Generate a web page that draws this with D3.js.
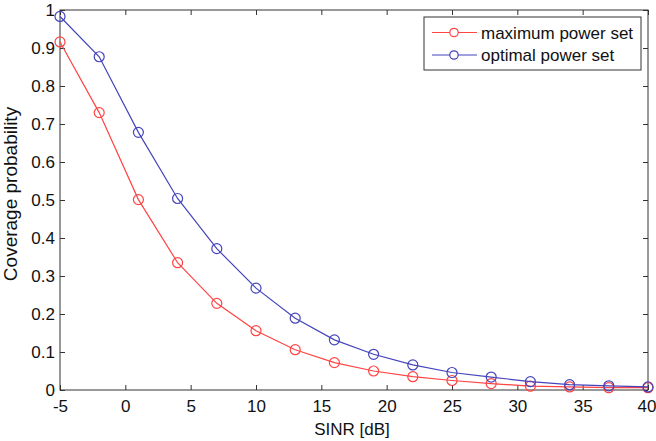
<!DOCTYPE html>
<html>
<head>
<meta charset="utf-8">
<script src="https://cdn.jsdelivr.net/npm/d3@7"></script>
<style>
  html, body { margin: 0; padding: 0; background: #fff; }
  svg { display: block; font-family: "Liberation Sans", Arial, sans-serif; }
</style>
</head>
<body>
<svg id="chart" width="656" height="441"></svg>
<script>
// SINR sample points (dB)
const sinr = [-5, -2, 1, 4, 7, 10, 13, 16, 19, 22, 25, 28, 31, 34, 37, 40];
// Coverage probability per power setting
const maxPower = [0.916, 0.730, 0.501, 0.335, 0.228, 0.156, 0.106, 0.072, 0.050, 0.035, 0.025, 0.017, 0.010, 0.008, 0.006, 0.006];
const optPower = [0.983, 0.877, 0.678, 0.504, 0.372, 0.268, 0.189, 0.132, 0.094, 0.066, 0.046, 0.034, 0.022, 0.014, 0.011, 0.008];
const xTicks = [-5, 0, 5, 10, 15, 20, 25, 30, 35, 40];
const yTicks = [0, 0.1, 0.2, 0.3, 0.4, 0.5, 0.6, 0.7, 0.8, 0.9, 1];
const seriesNames = ["maximum power set", "optimal power set"];
const seriesColors = ["#f44", "#44b"];

const svg = d3.select("#chart");
const m = { left: 60, top: 10, right: 648, bottom: 390 };

const x = d3.scaleLinear().domain([-5, 40]).range([m.left, m.right]);
const y = d3.scaleLinear().domain([0, 1]).range([m.bottom, m.top]);

const axisColor = "#333";
const tickLen = 5;
const tickFont = 17;

// Frame
svg.append("rect")
  .attr("x", m.left).attr("y", m.top)
  .attr("width", m.right - m.left).attr("height", m.bottom - m.top)
  .attr("fill", "none").attr("stroke", axisColor).attr("stroke-width", 1);

// Axes with inward ticks on all four sides
const fmtX = d => String(d);   // plain hyphen for negatives
const fmtY = d => d === 0 ? "0" : (d === 1 ? "1" : d3.format(".1f")(d));
const bottomAxis = svg.append("g").attr("transform", `translate(0,${m.bottom})`)
  .call(d3.axisBottom(x).tickValues(xTicks).tickSize(-tickLen).tickPadding(10).tickFormat(fmtX));
const topAxis = svg.append("g").attr("transform", `translate(0,${m.top})`)
  .call(d3.axisTop(x).tickValues(xTicks).tickSize(-tickLen).tickFormat(""));
const leftAxis = svg.append("g").attr("transform", `translate(${m.left},0)`)
  .call(d3.axisLeft(y).tickValues(yTicks).tickSize(-tickLen).tickPadding(5).tickFormat(fmtY));
const rightAxis = svg.append("g").attr("transform", `translate(${m.right},0)`)
  .call(d3.axisRight(y).tickValues(yTicks).tickSize(-tickLen).tickFormat(""));

[bottomAxis, topAxis, leftAxis, rightAxis].forEach(g => {
  g.select(".domain").remove();
  g.selectAll(".tick line").attr("stroke", axisColor);
  g.selectAll(".tick text")
    .attr("fill", "#111")
    .attr("font-size", tickFont)
    .attr("font-family", "Liberation Sans, Arial, sans-serif");
});
// keep the last x label inside the canvas edge
bottomAxis.selectAll(".tick text").filter(d => d === 40)
  .attr("text-anchor", "end").attr("dx", 8);

// Axis titles
svg.append("text")
  .attr("x", 352).attr("y", 435)
  .attr("text-anchor", "middle").attr("font-size", 17).attr("fill", "#111")
  .text("SINR [dB]");
svg.append("text")
  .attr("transform", "translate(17,194) rotate(-90)")
  .attr("text-anchor", "middle").attr("font-size", 19).attr("fill", "#111")
  .text("Coverage probability");

// Series
const line = d3.line().x((d, i) => x(sinr[i])).y(d => y(d));
[maxPower, optPower].forEach((vals, k) => {
  const g = svg.append("g");
  g.append("path").datum(vals)
    .attr("d", line).attr("fill", "none")
    .attr("stroke", seriesColors[k]).attr("stroke-width", 1.2);
  g.selectAll("circle").data(vals).join("circle")
    .attr("cx", (d, i) => x(sinr[i])).attr("cy", d => y(d))
    .attr("r", 5).attr("fill", "none")
    .attr("stroke", seriesColors[k]).attr("stroke-width", 1.2);
});

// Legend
const lg = svg.append("g");
lg.append("rect")
  .attr("x", 424).attr("y", 17).attr("width", 217).attr("height", 53)
  .attr("fill", "#fff").attr("stroke", axisColor).attr("stroke-width", 1);
seriesNames.forEach((name, k) => {
  const cy = 32.5 + k * 22.5;
  lg.append("line").attr("x1", 432).attr("x2", 477).attr("y1", cy).attr("y2", cy)
    .attr("stroke", seriesColors[k]).attr("stroke-width", 1.2);
  lg.append("circle").attr("cx", 454).attr("cy", cy).attr("r", 4.2)
    .attr("fill", "#fff").attr("stroke", seriesColors[k]).attr("stroke-width", 1.2);
  lg.append("text").attr("x", 481).attr("y", cy + 6)
    .attr("font-size", 17).attr("fill", "#111").text(name);
});
</script>
</body>
</html>
